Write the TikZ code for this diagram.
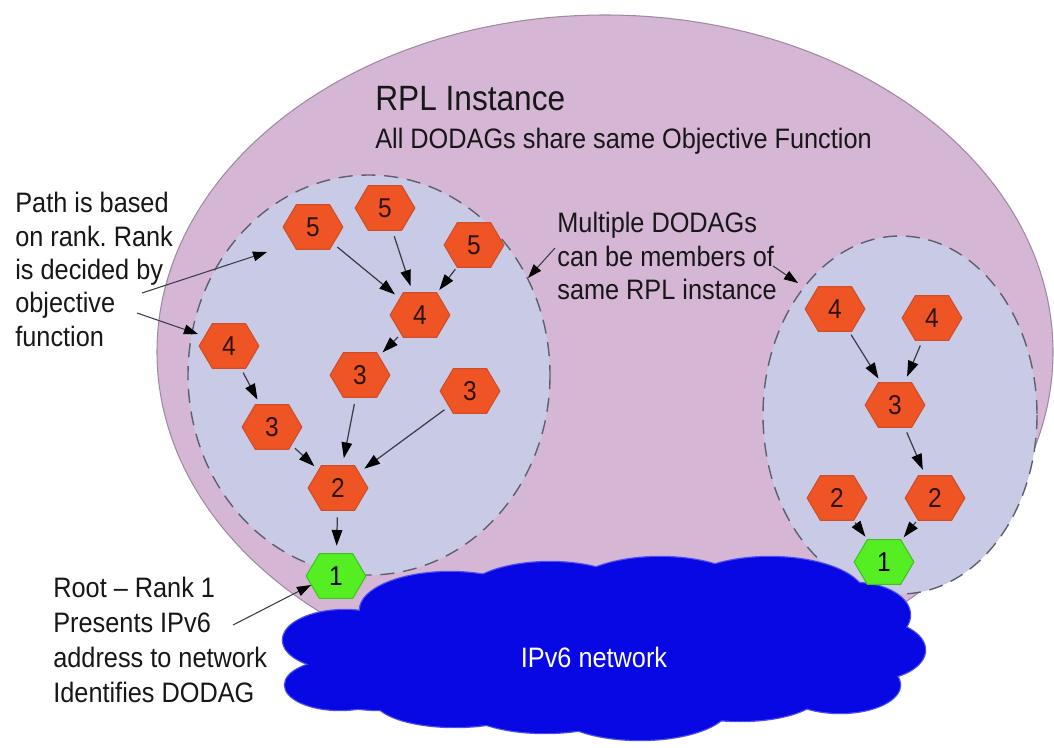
\documentclass[tikz,border=0pt]{standalone}
\usepackage{fontspec}
\setmainfont[FakeStretch=0.9]{Liberation Sans}
\usetikzlibrary{shapes.geometric,arrows.meta,calc}
\frenchspacing

\definecolor{instfill}{RGB}{213,182,213}
\definecolor{instline}{RGB}{160,138,162}
\definecolor{dagfill}{RGB}{201,203,230}
\definecolor{dagline}{RGB}{95,95,112}
\definecolor{netblue}{RGB}{8,8,228}
\definecolor{netedge}{RGB}{80,80,238}
\definecolor{rankfill}{RGB}{238,84,36}
\definecolor{rankline}{RGB}{205,78,40}
\definecolor{rootfill}{RGB}{85,238,35}
\definecolor{rootline}{RGB}{62,195,30}
\definecolor{ink}{RGB}{25,22,26}
\definecolor{digit}{RGB}{45,18,8}
\definecolor{link}{RGB}{60,60,72}

\tikzset{
  hexnode/.style 2 args={ellipse, draw=none, inner sep=0pt,
    minimum width=35.5pt, minimum height=31pt,
    font=\fontsize{15.5}{15.5}\selectfont, text=digit,
    path picture={\filldraw[fill=#1, draw=#2, line width=0.6pt]
      ([xshift=-17pt]path picture bounding box.center)
      -- ([xshift=-9.5pt,yshift=12.7pt]path picture bounding box.center)
      -- ([xshift=9.5pt,yshift=12.7pt]path picture bounding box.center)
      -- ([xshift=17pt]path picture bounding box.center)
      -- ([xshift=9.5pt,yshift=-12.7pt]path picture bounding box.center)
      -- ([xshift=-9.5pt,yshift=-12.7pt]path picture bounding box.center)
      -- cycle;}},
  rank/.style={hexnode={rankfill}{rankline}},
  root/.style={hexnode={rootfill}{rootline}, text=black},
  link/.style={draw=link, line width=0.7pt,
    -{Triangle[length=9pt,width=6pt,color=black]}, shorten >=1.5pt, shorten <=1pt},
  pointer/.style={draw=link, line width=0.6pt,
    -{Triangle[length=8pt,width=5.5pt,color=black]}},
  note/.style={inner sep=0pt, text=ink, font=\fontsize{16}{19}\selectfont},
  dodag/.style={fill=dagfill, draw=dagline, line width=0.8pt,
    dash pattern=on 8pt off 5pt}
}

\begin{document}
\begin{tikzpicture}[x=0.02cm, y=-0.02cm]
  \fill[white] (0,0) rectangle (1054,747);
  \useasboundingbox (0,0) rectangle (1054,747);

  % RPL instance
  \draw[fill=instfill, draw=instline, line width=0.6pt]
    (605,352) ellipse [x radius=448, y radius=337];

  % the two DODAGs
  \path[dodag] (369,375) ellipse [x radius=181, y radius=200];
  \path[dodag] (900,415) ellipse [x radius=137, y radius=179];

  % IPv6 network cloud: outline pass, then fill pass
  \def\lobes{345/640/62/30, 340/685/55/25, 450/610/90/38, 550/600/90/38,
    660/597/95/40, 770/597/95/40, 855/615/55/32, 870/650/55/30,
    840/685/60/28, 740/693/80/28, 640/705/90/35, 545/703/85/30,
    455/700/80/27, 380/690/60/20, 600/650/270/55}
  \foreach \cx/\cy/\rx/\ry in \lobes
    \draw[netedge, line width=1.4pt] (\cx,\cy) ellipse [x radius=\rx, y radius=\ry];
  \foreach \cx/\cy/\rx/\ry in \lobes
    \fill[netblue] (\cx,\cy) ellipse [x radius=\rx, y radius=\ry];
  \node[inner sep=0pt, text=white, anchor=base, font=\fontsize{16}{19}\selectfont]
    (net) at (594,667) {IPv6 network};

  % left DODAG
  \node[rank] (n5a) at (313,227) {5};
  \node[rank] (n5b) at (385,208) {5};
  \node[rank] (n5c) at (474,245) {5};
  \node[rank] (n4m) at (420,315) {4};
  \node[rank] (n4l) at (229,346) {4};
  \node[rank] (n3m) at (360,375) {3};
  \node[rank] (n3r) at (470,391) {3};
  \node[rank] (n3l) at (272,427) {3};
  \node[rank] (n2)  at (338,488) {2};
  \node[root] (n1)  at (336,576) {1};

  % right DODAG
  \node[rank] (r4l) at (835,309) {4};
  \node[rank] (r4r) at (932,318) {4};
  \node[rank] (r3)  at (895,405) {3};
  \node[rank] (r2l) at (837,498) {2};
  \node[rank] (r2r) at (935,498) {2};
  \node[root] (r1)  at (884,562) {1};

  % parent links
  \draw[link] (n5a) -- (n4m);
  \draw[link] (n5b) -- (n4m);
  \draw[link] (n5c) -- (n4m);
  \draw[link] (n4m) -- (n3m);
  \draw[link] (n4l) -- (n3l);
  \draw[link] (n3l) -- (n2);
  \draw[link] (n3m) -- (n2);
  \draw[link] (n3r) -- (n2);
  \draw[link] (n2)  -- (n1);
  \draw[link] (r4l) -- (r3);
  \draw[link] (r4r) -- (r3);
  \draw[link] (r3)  -- (r2r);
  \draw[link] (r2l) -- (r1);
  \draw[link] (r2r) -- (r1);

  % annotations
  \node[note, anchor=base west, font=\fontsize{20}{24}\selectfont]
    (title) at (375,110) {RPL Instance};
  \node[note, anchor=base west] (subtitle) at (375,148)
    {All DODAGs share same Objective Function};
  \node[note, anchor=north west, align=left] (pathnote) at (15,192)
    {Path is based\\on rank. Rank\\is decided by\\objective\\function};
  \node[note, anchor=north west, align=left] (multinote) at (557,212)
    {Multiple DODAGs\\can be members of\\same RPL instance};
  \node[note, anchor=north west, align=left, font=\fontsize{16}{19.8}\selectfont]
    (rootnote) at (53,577)
    {Root – Rank 1\\Presents IPv6\\address to network\\Identifies DODAG};

  \coordinate (a1s) at (142,293);  \coordinate (a1e) at (267,252);
  \coordinate (a2s) at (137,313);  \coordinate (a2e) at (198,334);
  \coordinate (a3s) at (555,248);  \coordinate (a3e) at (528,278);
  \coordinate (a4s) at (773,266);  \coordinate (a4e) at (798,283);
  \coordinate (a5s) at (233,625);  \coordinate (a5e) at (311,585);
  \draw[pointer] (a1s) -- (a1e);
  \draw[pointer] (a2s) -- (a2e);
  \draw[pointer] (a3s) -- (a3e);
  \draw[pointer] (a4s) -- (a4e);
  \draw[pointer] (a5s) -- (a5e);
\end{tikzpicture}
\end{document}
